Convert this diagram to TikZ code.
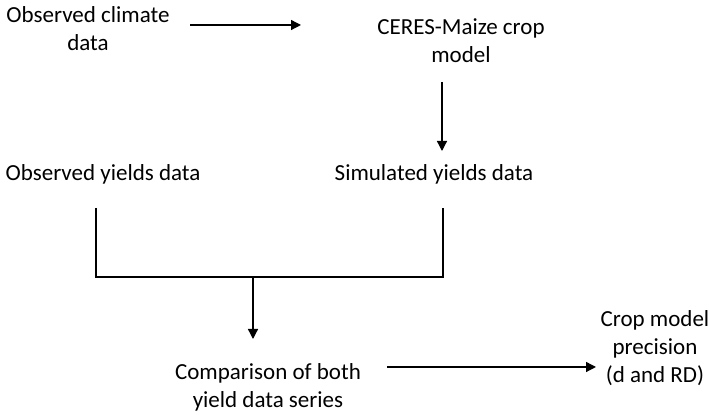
\documentclass[tikz,border=0pt]{standalone}
\usepackage{fontspec}
\setmainfont{Carlito}
\usetikzlibrary{arrows.meta}

\begin{document}
\begin{tikzpicture}[x=0.5pt,y=-0.5pt,
  every node/.style={font=\fontsize{11.5}{14}\selectfont,align=center,inner sep=0pt},
  arr/.style={line width=0.65pt,-{Triangle[length=5pt,width=5pt]}},
  bar/.style={line width=0.65pt}]
\useasboundingbox (0,0) rectangle (709,415);
% text blocks
\node (climate) at (88,29) {Observed climate\\data};
\node (ceres) at (461,41) {CERES-Maize crop\\model};
\node (obsyield) at (103,174) {Observed yields data};
\node (simyield) at (434,174) {Simulated yields data};
\node (compare) at (268,387) {Comparison of both\\yield data series};
\node (precision) at (655,348) {Crop model\\precision\\(d and RD)};
% free ends of the connectors
\coordinate (c1) at (190,25);
\coordinate (c2) at (301,25);
\coordinate (m1) at (442,82);
\coordinate (m2) at (442,151);
\coordinate (j) at (253,277);
\coordinate (k) at (253,339);
\coordinate (p1) at (387,367);
\coordinate (p2) at (596,367);
% connectors
\draw[arr] (c1) -- (c2);
\draw[arr] (m1) -- (m2);
\draw[bar] (96,208) -- (96,277) -- (443,277) -- (443,208);
\draw[arr] (j) -- (k);
\draw[arr] (p1) -- (p2);
\end{tikzpicture}
\end{document}
